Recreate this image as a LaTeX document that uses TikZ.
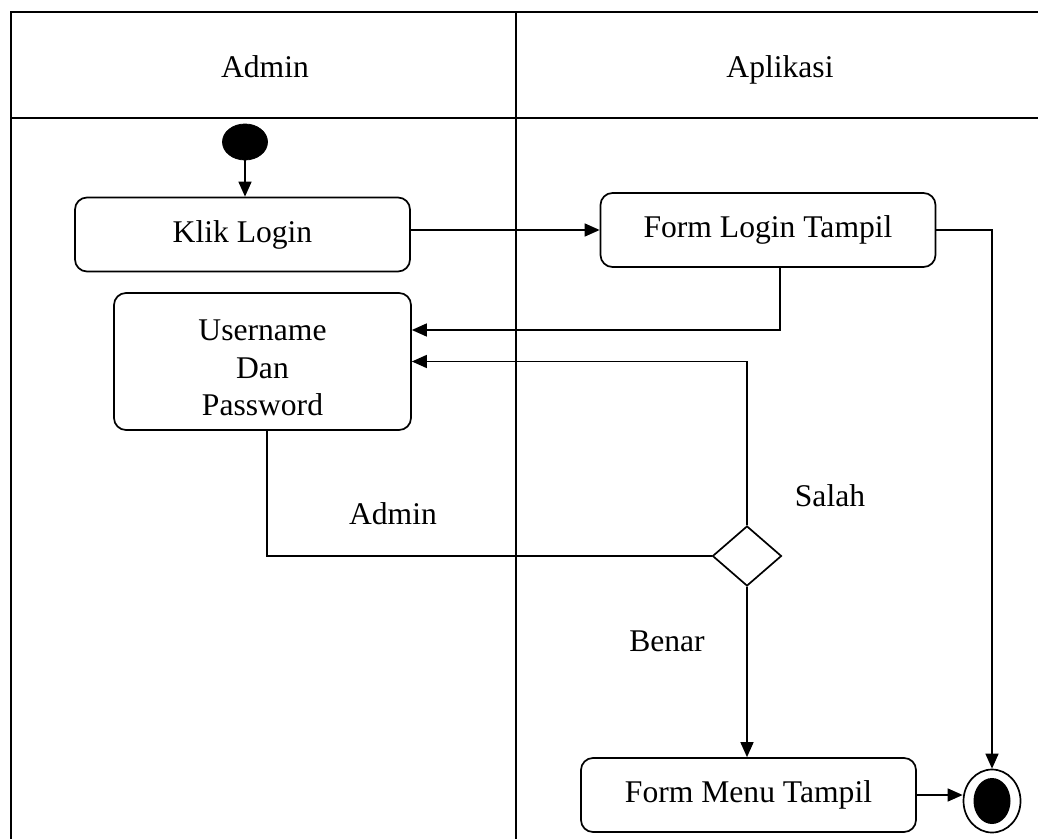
\documentclass[tikz,border=0pt]{standalone}
\usepackage{fontspec}
\setmainfont{Liberation Serif}
\usetikzlibrary{positioning, arrows.meta, shapes.geometric}
\tikzset{
  txt/.style={font=\fontsize{15.8}{18.75}\selectfont},
  act/.style={txt, draw, rounded corners=6pt, align=center, line width=0.85pt,
              minimum width=167.5pt, minimum height=37pt, inner sep=2pt},
  lbl/.style={txt, inner sep=0pt, text height=1.4ex, text depth=.25ex},
  lane/.style={line width=1pt},
  flow/.style={line width=0.75pt},
  arr/.style={flow, -{Triangle[length=7.5pt, width=6.5pt]}},
}
\begin{document}
\begin{tikzpicture}[x=0.5pt, y=-0.5pt]
  \useasboundingbox (0,0) rectangle (1038,839);
  % swimlanes
  \draw[lane] (1038,12) -- (11,12) -- (11,839);
  \draw[lane] (11,118) -- (1038,118);
  \draw[lane] (516,12) -- (516,839);
  \node[lbl](hadm) at (265,72) {Admin};
  \node[lbl](happ) at (780,72) {Aplikasi};

  \node[draw, fill, ellipse, minimum width=22.5pt, minimum height=18pt, inner sep=0pt](start) at (245,142) {};
  \node[act](klik) at (242.5,234.5) {Klik Login};
  \node[act](login) at (768,230) {Form Login Tampil};
  \node[act, minimum width=148.5pt, minimum height=68.5pt](user) at (262.5,361.5) {\rule{0pt}{17pt}Username\\Dan\\Password};
  \node[draw, diamond, line width=0.85pt, minimum width=34.5pt, minimum height=30pt, inner sep=0pt](cek) at (747,556) {};
  \node[act](menu) at (748.5,795) {Form Menu Tampil};
  \node[draw, ellipse, line width=0.85pt, minimum width=28.5pt, minimum height=31.5pt, inner sep=0pt](stop) at (992,801) {};
  \fill (stop.center) ellipse (9.25pt and 11.5pt);

  \draw[arr](start) -- (start |- klik.north);
  \draw[arr](login.west -| klik.east) -- (login.west);
  \draw[arr](login.east) -| (stop.north);
  \draw[arr]([xshift=6pt]login.south) |- ([yshift=15.75pt]user.east);
  \draw[arr](cek.north) |- (user.east);
  \draw[flow]([xshift=2.25pt]user.south) |- (cek.west);
  \draw[arr](cek.south) -- (cek.south |- menu.north);
  \draw[arr](menu.east) -- (menu.east -| stop.west);

  \node[lbl](ladm) at (393,519) {Admin};
  \node[lbl](lsal) at (830,501) {Salah};
  \node[lbl](lben) at (667,646) {Benar};
\end{tikzpicture}
\end{document}
